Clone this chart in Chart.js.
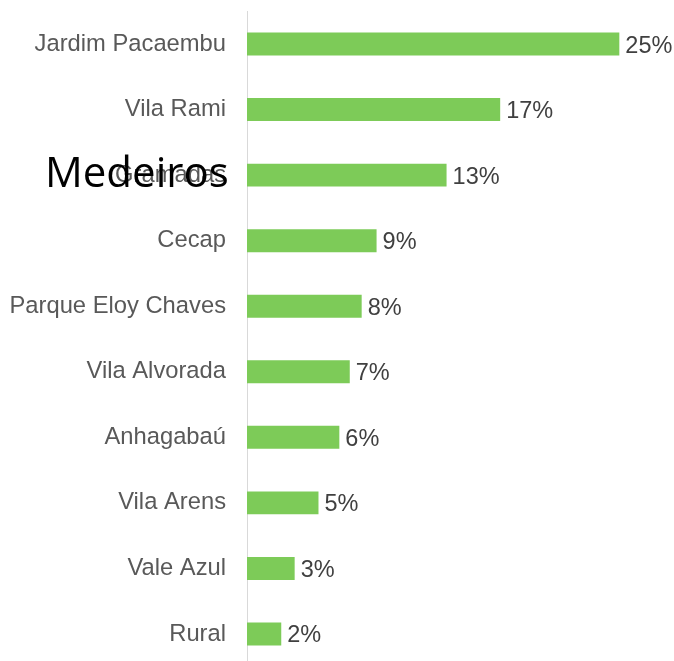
<!DOCTYPE html>
<html>
<head>
<meta charset="utf-8">
<script src="https://cdn.jsdelivr.net/npm/chart.js@4"></script>
<style>
  html, body { margin: 0; padding: 0; background: #fff; overflow: hidden; }
  #wrap { position: relative; width: 674px; height: 661px; overflow: hidden; }
  #myChart { position: absolute; left: 0; top: -24px; }
</style>
</head>
<body>
<div id="wrap"><canvas id="myChart" width="674" height="726"></canvas></div>
<script>
// bairros and share of records (%)
const bairros = ["Jardim Pacaembu", "Vila Rami", "Gramadas", "Cecap", "Parque Eloy Chaves",
                 "Vila Alvorada", "Anhagabaú", "Vila Arens", "Vale Azul", "Rural"];
const percentuais = [25, 17, 13.4, 8.7, 7.7, 6.9, 6.2, 4.8, 3.2, 2.3];
const overlayText = "Medeiros";

// draws the % next to each bar
const valueLabels = {
   id: "valueLabels",
   afterDatasetsDraw(chart) {
      const ctx = chart.ctx;
      const meta = chart.getDatasetMeta(0);
      ctx.save();
      ctx.font = "23.5px 'Liberation Sans', Arial, sans-serif";
      ctx.fillStyle = "#404040";
      ctx.textAlign = "left";
      ctx.textBaseline = "middle";
      meta.data.forEach(function (bar, i) {
         ctx.fillText(Math.round(percentuais[i]) + "%", bar.x + 6, bar.y + 2);
      });
      ctx.restore();
   }
};

// the big black word pasted over the third label
const overlay = {
   id: "overlay",
   afterDraw(chart) {
      const ctx = chart.ctx;
      const y = chart.scales.y.getPixelForValue(2);
      ctx.save();
      ctx.font = "42px 'Open Sans', sans-serif";
      ctx.fillStyle = "#000";
      ctx.textAlign = "left";
      ctx.textBaseline = "alphabetic";
      ctx.fillText(overlayText, 45, y + 12);
      ctx.restore();
   }
};

let ctx = document.getElementById("myChart").getContext("2d");
let chart = new Chart(ctx, {
   type: "bar",
   data: {
      labels: bairros,
      datasets: [{
         data: percentuais,
         backgroundColor: "#7dcb58",
         borderWidth: 0,
         barPercentage: 0.35,
         categoryPercentage: 1
      }]
   },
   options: {
      indexAxis: "y",
      responsive: false,
      animation: false,
      layout: { padding: { top: 0, right: 10, bottom: 0, left: 0 } },
      plugins: { legend: { display: false }, tooltip: { enabled: false } },
      scales: {
         x: { display: false, min: 0, max: 28 },
         y: {
            afterFit: function (scale) { scale.width = 247; },
            grid: { display: false, drawTicks: false },
            border: { display: true, color: "#d9d9d9", width: 1 },
            ticks: {
               padding: 21,
               color: "#595959",
               font: { family: "'Liberation Sans', Arial, sans-serif", size: 23.75 }
            }
         }
      }
   },
   plugins: [valueLabels, overlay]
});
</script>
</body>
</html>
